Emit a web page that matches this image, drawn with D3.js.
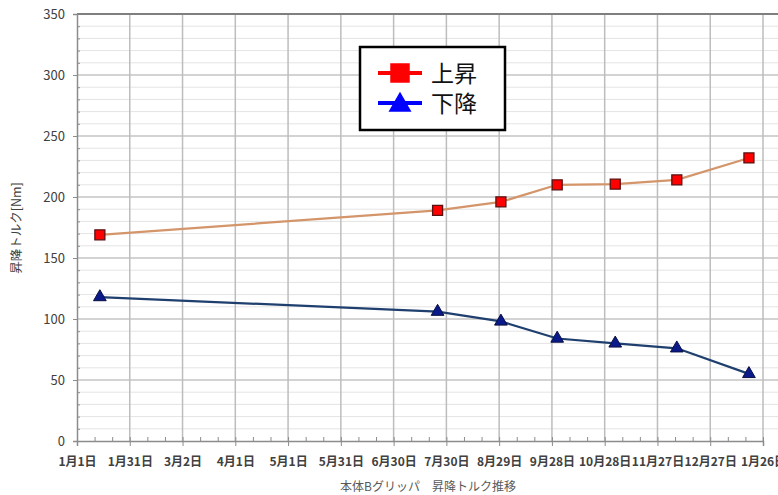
<!DOCTYPE html>
<html>
<head>
<meta charset="utf-8">
<script src="https://cdn.jsdelivr.net/npm/d3@7"></script>
<style>
  body { margin: 0; background: #fff; }
  text { font-family: "Noto Sans CJK JP", "Noto Sans", sans-serif; }
</style>
</head>
<body>
<div id="chart"></div>
<script>
// Data
var dates     = ["2019-01-14", "2019-07-25", "2019-08-30", "2019-10-01", "2019-11-03", "2019-12-08", "2020-01-18"];
var up_vals   = [169, 189, 196, 210, 210.5, 214, 232];
var down_vals = [118, 106, 98, 84, 80, 76, 55];
var x_ticks   = ["2019-01-01", "2019-01-31", "2019-03-02", "2019-04-01", "2019-05-01", "2019-05-31", "2019-06-30",
                 "2019-07-30", "2019-08-29", "2019-09-28", "2019-10-28", "2019-11-27", "2019-12-27", "2020-01-26"];
var y_ticks   = [0, 50, 100, 150, 200, 250, 300, 350];
var legend_names = ["上昇", "下降"];

var chart_width  = 778;
var chart_height = 495;

var parse = d3.timeParse("%Y-%m-%d");
var fmt   = d3.timeFormat("%-m月%-d日");
var tick_dates = x_ticks.map(parse);

// Scales
var x = d3.scaleTime()
          .domain([tick_dates[0], tick_dates[tick_dates.length - 1]])
          .range([77, 763]);
var y = d3.scaleLinear()
          .domain([0, 350])
          .range([441, 14]);

var svg = d3.select('#chart')
            .append('svg')
            .attr('width', chart_width)
            .attr('height', chart_height);

// Horizontal grid: minor every 10, major every 50
var minor_y = d3.range(10, 350, 10).filter(function(v){ return v % 50 != 0; });
svg.selectAll('line.hminor')
   .data(minor_y)
   .enter()
   .append('line')
   .attr('x1', 77).attr('x2', chart_width)
   .attr('y1', function(d){ return y(d); })
   .attr('y2', function(d){ return y(d); })
   .attr('stroke', '#e4e4e4')
   .attr('stroke-width', 1);

svg.selectAll('line.hmajor')
   .data(y_ticks.slice(1, -1))
   .enter()
   .append('line')
   .attr('x1', 77).attr('x2', chart_width)
   .attr('y1', function(d){ return y(d); })
   .attr('y2', function(d){ return y(d); })
   .attr('stroke', '#c4c4c4')
   .attr('stroke-width', 1.3);

// Vertical grid
svg.selectAll('line.vgrid')
   .data(tick_dates.slice(1))
   .enter()
   .append('line')
   .attr('x1', function(d){ return x(d); })
   .attr('x2', function(d){ return x(d); })
   .attr('y1', y(350)).attr('y2', y(0))
   .attr('stroke', '#bdbdbd')
   .attr('stroke-width', 1.5);

// Top line at 350
svg.append('line')
   .attr('x1', 77).attr('x2', chart_width)
   .attr('y1', y(350)).attr('y2', y(350))
   .attr('stroke', '#7f7f7f')
   .attr('stroke-width', 2);

// Y axis
var y_axis = svg.append('g')
   .attr('transform', 'translate(77,0)')
   .call(d3.axisLeft(y).tickValues(y_ticks).tickSize(4).tickPadding(8));
svg.append('g')
   .attr('transform', 'translate(77,0)')
   .call(d3.axisRight(y).tickValues(minor_y).tickSize(3).tickFormat(''))
   .select('.domain').remove();

// X axis
var x_axis = svg.append('g')
   .attr('transform', 'translate(0,' + y(0) + ')')
   .call(d3.axisBottom(x).tickValues(tick_dates).tickSize(5).tickFormat(fmt).tickPadding(11));
var minor_x = d3.range(10, 390, 10)
   .filter(function(d){ return d % 30 != 0; })
   .map(function(d){ return d3.timeDay.offset(tick_dates[0], d); });
svg.append('g')
   .attr('transform', 'translate(0,' + y(0) + ')')
   .call(d3.axisTop(x).tickValues(minor_x).tickSize(4).tickFormat(''))
   .select('.domain').remove();
svg.append('g')
   .attr('transform', 'translate(0,' + y(0) + ')')
   .call(d3.axisTop(x).tickValues(tick_dates).tickSize(4).tickFormat(''))
   .select('.domain').remove();

svg.selectAll('.domain').attr('stroke', '#8c8c8c').attr('stroke-width', 1.5);
svg.selectAll('.tick line').attr('stroke', '#8c8c8c');
y_axis.selectAll('text').attr('font-size', 13).attr('fill', '#404040');
x_axis.selectAll('text').attr('font-size', 12).attr('font-weight', 'bold').attr('fill', '#404040');

// Axis titles
svg.append('text')
   .attr('transform', 'translate(21,' + 228 + ') rotate(-90)')
   .attr('text-anchor', 'middle')
   .attr('font-size', 12.5)
   .attr('fill', '#404040')
   .text('昇降トルク[Nm]');

svg.append('text')
   .attr('x', 428).attr('y', 491)
   .attr('text-anchor', 'middle')
   .attr('font-size', 12)
   .attr('fill', '#595959')
   .text('本体Bグリッパ　昇降トルク推移');

// Lines
var up_data = dates.map(function(d, i){ return { date: parse(d), value: up_vals[i] }; });
var down_data = dates.map(function(d, i){ return { date: parse(d), value: down_vals[i] }; });

var line = d3.line()
             .x(function(d){ return x(d.date); })
             .y(function(d){ return y(d.value); });

svg.append('path')
   .datum(up_data)
   .attr('d', line)
   .attr('fill', 'none')
   .attr('stroke', '#d4956a')
   .attr('stroke-width', 2.2);

svg.append('path')
   .datum(down_data)
   .attr('d', line)
   .attr('fill', 'none')
   .attr('stroke', '#1f3f6e')
   .attr('stroke-width', 2.2);

// Markers
var square = d3.symbol().type(d3.symbolSquare).size(100);
var triangle = d3.symbol().type(d3.symbolTriangle).size(70);

svg.selectAll('path.up')
   .data(up_data)
   .enter()
   .append('path')
   .attr('transform', function(d){ return 'translate(' + x(d.date) + ',' + y(d.value) + ')'; })
   .attr('d', square)
   .attr('fill', '#ff0000')
   .attr('stroke', '#5a1010')
   .attr('stroke-width', 1.3);

svg.selectAll('path.down')
   .data(down_data)
   .enter()
   .append('path')
   .attr('transform', function(d){ return 'translate(' + x(d.date) + ',' + y(d.value) + ')'; })
   .attr('d', triangle)
   .attr('fill', '#0a1a8a')
   .attr('stroke', '#0a1040')
   .attr('stroke-width', 1);

// Legend
var legend = svg.append('g');
legend.append('rect')
   .attr('x', 360).attr('y', 47)
   .attr('width', 145).attr('height', 83)
   .attr('fill', '#fff')
   .attr('stroke', '#000')
   .attr('stroke-width', 2.5);

var legend_colors = ['#ff0000', '#0000ff'];
var legend_symbols = [d3.symbol().type(d3.symbolSquare).size(380), d3.symbol().type(d3.symbolTriangle).size(230)];

var items = legend.selectAll('g.item')
   .data(legend_names)
   .enter()
   .append('g')
   .attr('transform', function(d, i){ return 'translate(0,' + (73 + i * 30) + ')'; });

items.append('line')
   .attr('x1', 378).attr('x2', 422)
   .attr('stroke', function(d, i){ return legend_colors[i]; })
   .attr('stroke-width', 4);

items.append('path')
   .attr('transform', function(d, i){ return 'translate(400,' + (i == 1 ? 2 : 0) + ')'; })
   .attr('d', function(d, i){ return legend_symbols[i](); })
   .attr('fill', function(d, i){ return legend_colors[i]; });

items.append('text')
   .attr('x', 431).attr('y', 9)
   .attr('font-size', 23)
   .attr('fill', '#111')
   .text(function(d){ return d; });
</script>
</body>
</html>
